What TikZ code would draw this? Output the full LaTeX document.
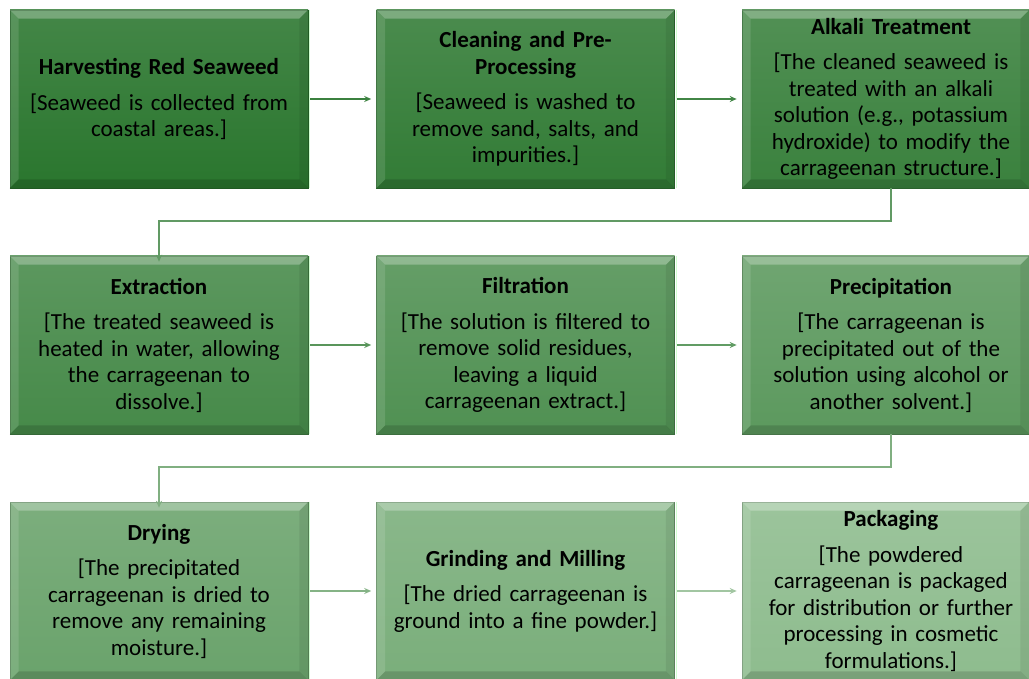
\documentclass[tikz,border=0pt]{standalone}
\usepackage{fontspec}
\setmainfont{Carlito}
\usetikzlibrary{arrows.meta}
\definecolor{cA}{RGB}{42,118,46}
\definecolor{cB}{RGB}{142,188,142}
\colorlet{c1}{cA}
\colorlet{c2}{cB!8!cA}
\colorlet{c3}{cB!16!cA}
\colorlet{c4}{cB!28!cA}
\colorlet{c5}{cB!38!cA}
\colorlet{c6}{cB!50!cA}
\colorlet{c7}{cB!64!cA}
\colorlet{c8}{cB!80!cA}
\colorlet{c9}{cB}
\tikzset{
  boxfill/.style={rectangle, inner sep=0pt,
    top color=#1!88!white, bottom color=#1, draw=#1!80!black, line width=0.6pt},
  stepbox/.style={boxfill=#1, minimum width=298pt, minimum height=178pt,
    text width=290pt, align=center, font=\fontsize{23}{26.5}\selectfont},
  narrowbox/.style={boxfill=#1, minimum width=287pt, minimum height=178pt},
  boxtext/.style={text width=290pt, align=center, inner sep=0pt, font=\fontsize{23}{26.5}\selectfont},
  conn/.style={line width=1.3pt, -{Stealth[length=7pt,width=6pt]}, draw=#1}
}
\newcommand{\bevel}[1]{%
  \fill[white, opacity=0.28] (#1.north west) -- (#1.north east) -- ([xshift=-9pt,yshift=-9pt]#1.north east) -- ([xshift=9pt,yshift=-9pt]#1.north west) -- cycle;
  \fill[white, opacity=0.12] (#1.north west) -- ([xshift=9pt,yshift=-9pt]#1.north west) -- ([xshift=9pt,yshift=9pt]#1.south west) -- (#1.south west) -- cycle;
  \fill[black, opacity=0.14] (#1.south west) -- ([xshift=9pt,yshift=9pt]#1.south west) -- ([xshift=-9pt,yshift=9pt]#1.south east) -- (#1.south east) -- cycle;
  \fill[black, opacity=0.07] (#1.north east) -- (#1.south east) -- ([xshift=-9pt,yshift=9pt]#1.south east) -- ([xshift=-9pt,yshift=-9pt]#1.north east) -- cycle;
  \draw[white!70!green, opacity=0.6, line width=1.2pt] ([xshift=1.5pt]#1.north east) -- ([xshift=1.5pt]#1.south east);
}
\begin{document}
\begin{tikzpicture}[x=1pt,y=-1pt]
\useasboundingbox (0,0) rectangle (1029,679);
\node[stepbox=c1] (b1) at (159,99) {\textbf{Harvesting Red Seaweed}\\[9pt][Seaweed is collected from\\coastal areas.]};
\node[stepbox=c2] (b2) at (525.5,99) {\textbf{Cleaning and Pre-}\\\textbf{Processing}\\[9pt][Seaweed is washed to\\remove sand, salts, and\\impurities.]};
\node[narrowbox=c3] (b3) at (885.5,99) {};
\node[stepbox=c4] (b4) at (159,345) {\textbf{Extraction}\\[9pt][The treated seaweed is\\heated in water, allowing\\the carrageenan to\\dissolve.]};
\node[stepbox=c5] (b5) at (525.5,345) {\textbf{Filtration}\\[9pt][The solution is filtered to\\remove solid residues,\\leaving a liquid\\carrageenan extract.]};
\node[narrowbox=c6] (b6) at (885.5,345) {};
\node[stepbox=c7] (b7) at (159,591) {\textbf{Drying}\\[9pt][The precipitated\\carrageenan is dried to\\remove any remaining\\moisture.]};
\node[stepbox=c8] (b8) at (525.5,591) {\textbf{Grinding and Milling}\\[9pt][The dried carrageenan is\\ground into a fine powder.]};
\node[narrowbox=c9] (b9) at (885.5,591) {};
\foreach \b in {b1,b2,b3,b4,b5,b6,b7,b8,b9}{\bevel{\b}}
\node[boxtext] (t3) at (891,99) {\textbf{Alkali Treatment}\\[9pt][The cleaned seaweed is\\treated with an alkali\\solution (e.g., potassium\\hydroxide) to modify the\\carrageenan structure.]};
\node[boxtext] (t6) at (891,345) {\textbf{Precipitation}\\[9pt][The carrageenan is\\precipitated out of the\\solution using alcohol or\\another solvent.]};
\node[boxtext] (t9) at (891,591) {\textbf{Packaging}\\[9pt][The powdered\\carrageenan is packaged\\for distribution or further\\processing in cosmetic\\formulations.]};
\coordinate (k1) at (891,221);
\coordinate (k2) at (159,221);
\coordinate (k3) at (891,467);
\coordinate (k4) at (159,467);
\draw[conn=c1!92!white] ([xshift=2pt]b1.east) -- ([xshift=-5pt]b2.west);
\draw[conn=c2!92!white] ([xshift=2pt]b2.east) -- ([xshift=-5pt]b3.west);
\draw[conn=c3!80!white] (b3.south -| k1) -- (k1) -- (k2) -- ([yshift=-6pt]b4.north -| k2);
\draw[conn=c4!90!white] ([xshift=2pt]b4.east) -- ([xshift=-5pt]b5.west);
\draw[conn=c5!90!white] ([xshift=2pt]b5.east) -- ([xshift=-5pt]b6.west);
\draw[conn=c6!78!white] (b6.south -| k3) -- (k3) -- (k4) -- ([yshift=-6pt]b7.north -| k4);
\draw[conn=c7!82!white] ([xshift=2pt]b7.east) -- ([xshift=-5pt]b8.west);
\draw[conn=c8!70!white] ([xshift=2pt]b8.east) -- ([xshift=-5pt]b9.west);
\end{tikzpicture}
\end{document}
